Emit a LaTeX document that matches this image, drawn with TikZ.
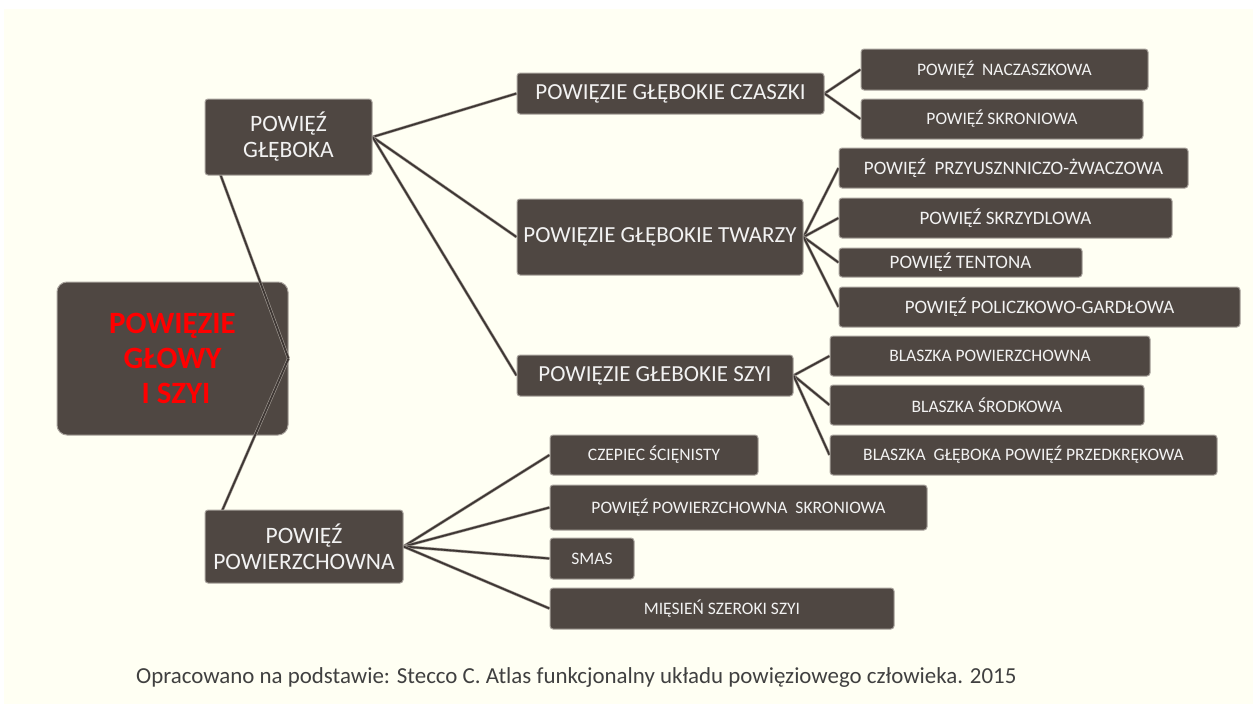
\documentclass[tikz,border=0pt]{standalone}
\usepackage{fontspec}
\setmainfont{Carlito}
\definecolor{bgcream}{HTML}{FFFFF3}
\definecolor{boxfill}{HTML}{4F4742}
\definecolor{boxline}{HTML}{A8A29C}
\definecolor{boxtext}{HTML}{F2F2F2}
\definecolor{connshade}{HTML}{A39C95}
\definecolor{conndark}{HTML}{3E3734}
\definecolor{captext}{HTML}{404040}
\pgfdeclarelayer{bglayer}
\pgfdeclarelayer{connlayer}
\pgfsetlayers{bglayer,connlayer,main}
\tikzset{
  box/.style={draw=boxline, fill=boxfill, line width=1pt, rounded corners=3pt,
    text=boxtext, inner sep=0pt, align=center},
  rootbox/.style={box, rounded corners=10pt, text=red,
    font=\fontsize{31}{35}\selectfont\bfseries},
  lvlone/.style={box, font=\fontsize{23.5}{26}\selectfont},
  lvltwo/.style={box, font=\fontsize{23}{27}\selectfont},
  smallA/.style={box, font=\fontsize{17.5}{20}\selectfont},
  smallB/.style={box, font=\fontsize{19}{22}\selectfont},
  conn/.style={draw=conndark, line width=1.8pt, line cap=butt,
    preaction={draw=connshade, line width=3pt, line cap=butt}},
}
\begin{document}
\begin{tikzpicture}[x=1pt,y=-1pt]
\useasboundingbox (0,0) rectangle (1253,704);
\begin{pgfonlayer}{bglayer}
  \fill[white] (0,0) rectangle (1253,704);
  \fill[bgcream] (4,9) rectangle (1253,704);
  \node[rootbox, minimum width=231pt, minimum height=153pt] (root) at (172.5,358.5)
    {POWIĘZIE\\GŁOWY\\\hspace*{7pt}I SZYI};
\end{pgfonlayer}

% level 1
\node[lvlone, minimum width=167pt, minimum height=76pt] (gleb) at (288.5,137) {POWIĘŹ\\GŁĘBOKA};
\node[lvlone, minimum width=198pt, minimum height=73pt] (powierz) at (304,546.5) {POWIĘŹ\\POWIERZCHOWNA};

% level 2
\node[lvltwo, minimum width=307pt, minimum height=41pt] (czaszki) at (670.5,93.5) {POWIĘZIE GŁĘBOKIE CZASZKI};
\node[lvltwo, minimum width=286pt, minimum height=76pt] (twarzy) at (660,237) {POWIĘZIE GŁĘBOKIE TWARZY};
\node[lvltwo, minimum width=276pt, minimum height=41pt] (szyi) at (655,375.5) {POWIĘZIE GŁEBOKIE SZYI};

% level 3
\node[smallA, minimum width=287pt, minimum height=41pt] (nacz) at (1004.5,69.5) {POWIĘŹ\ \ NACZASZKOWA};
\node[smallA, minimum width=282pt, minimum height=40pt] (skron) at (1002,119) {POWIĘŹ SKRONIOWA};
\node[smallB, minimum width=349pt, minimum height=40pt] (przy) at (1013.5,168) {POWIĘŹ\ \ PRZYUSZNNICZO-ŻWACZOWA};
\node[smallB, minimum width=333pt, minimum height=40pt] (skrzyd) at (1005.5,218) {POWIĘŹ SKRZYDLOWA};
\node[smallB, minimum width=243pt, minimum height=29pt] (tent) at (960.5,262.5) {POWIĘŹ TENTONA};
\node[smallB, minimum width=401pt, minimum height=40pt] (policz) at (1039.5,307) {POWIĘŹ POLICZKOWO-GARDŁOWA};
\node[smallA, minimum width=320pt, minimum height=40pt] (blpow) at (990,356) {BLASZKA POWIERZCHOWNA};
\node[smallA, minimum width=314pt, minimum height=40pt] (blsrod) at (987,405) {BLASZKA ŚRODKOWA};
\node[smallA, minimum width=387pt, minimum height=40pt] (blgl) at (1023.5,455) {BLASZKA\ \ GŁĘBOKA POWIĘŹ PRZEDKRĘKOWA};
\node[smallA, minimum width=208pt, minimum height=40pt] (czep) at (654,455) {CZEPIEC ŚCIĘNISTY};
\node[smallA, minimum width=377pt, minimum height=45pt] (psk) at (738.5,507.5) {POWIĘŹ POWIERZCHOWNA\ \ SKRONIOWA};
\node[smallA, minimum width=84pt, minimum height=41pt] (smas) at (592,558.5) {SMAS};
\node[smallA, minimum width=344pt, minimum height=41pt] (mies) at (722,608.5) {MIĘSIEŃ SZEROKI SZYI};

% connectors
\begin{pgfonlayer}{connlayer}
  \path[conn] (root.east) -- ([xshift=2pt]gleb.west);
  \path[conn] (root.east) -- ([xshift=2pt]powierz.west);
  \path[conn] (gleb.east) -- (czaszki.west);
  \path[conn] (gleb.east) -- (twarzy.west);
  \path[conn] (gleb.east) -- (szyi.west);
  \path[conn] (czaszki.east) -- (nacz.west);
  \path[conn] (czaszki.east) -- (skron.west);
  \path[conn] (twarzy.east) -- (przy.west);
  \path[conn] (twarzy.east) -- (skrzyd.west);
  \path[conn] (twarzy.east) -- (tent.west);
  \path[conn] (twarzy.east) -- (policz.west);
  \path[conn] (szyi.east) -- (blpow.west);
  \path[conn] (szyi.east) -- (blsrod.west);
  \path[conn] (szyi.east) -- (blgl.west);
  \path[conn] (powierz.east) -- (czep.west);
  \path[conn] (powierz.east) -- (psk.west);
  \path[conn] (powierz.east) -- (smas.west);
  \path[conn] (powierz.east) -- (mies.west);
\end{pgfonlayer}

% caption
\node[anchor=west, inner sep=0pt, text=captext, font=\fontsize{22.9}{26}\selectfont] (caption) at (136,678)
  {Opracowano na podstawie: Stecco C. Atlas funkcjonalny układu powięziowego człowieka. 2015};
\end{tikzpicture}
\end{document}
